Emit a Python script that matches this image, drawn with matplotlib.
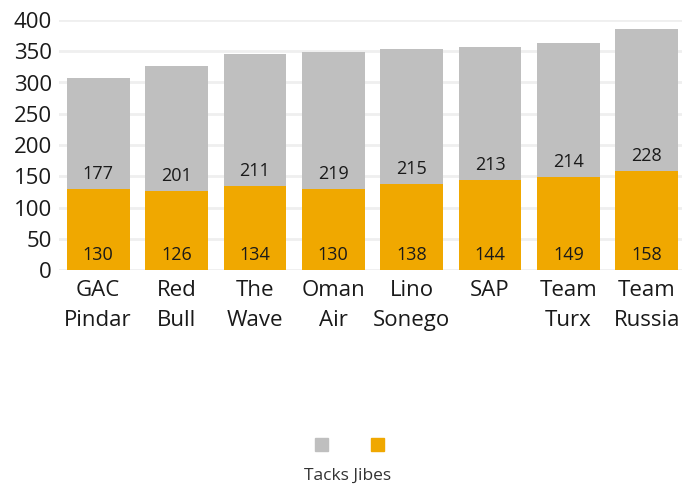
import matplotlib.pyplot as plt
from matplotlib.patches import Rectangle

plt.rcParams['font.family'] = ['Open Sans', 'DejaVu Sans']

teams = ['GAC\nPindar', 'Red\nBull', 'The\nWave', 'Oman\nAir', 'Lino\nSonego', 'SAP', 'Team\nTurx', 'Team\nRussia']
jibes = [130, 126, 134, 130, 138, 144, 149, 158]
tacks = [177, 201, 211, 219, 215, 213, 214, 228]

grey = '#bfbfbf'
orange = '#f0a800'

fig = plt.figure(figsize=(6.82, 4.86), dpi=100)
ax = fig.add_axes([59 / 682, 1 - 270 / 486, 623 / 682, 250 / 486])

x = range(len(teams))
ax.bar(x, jibes, width=0.8, color=orange, zorder=2)
ax.bar(x, tacks, width=0.8, bottom=jibes, color=grey, zorder=2)

for i in x:
    ax.text(i, 24, str(jibes[i]), ha='center', va='center', fontsize=13, color='#1a1a1a', zorder=3)
    ax.text(i, jibes[i] + 24, str(tacks[i]), ha='center', va='center', fontsize=13, color='#1a1a1a', zorder=3)

ax.set_ylim(0, 400)
ax.set_xlim(-0.5, 7.45)
ax.set_yticks(range(0, 401, 50))
ax.yaxis.grid(True, color='#efefef', linewidth=2, zorder=0)
ax.set_axisbelow(True)
for s in ax.spines.values():
    s.set_visible(False)
ax.tick_params(axis='both', length=0, labelsize=16, colors='#1a1a1a')
ax.tick_params(axis='y', pad=5)
ax.tick_params(axis='x', pad=7)
ax.set_xticks(list(x))
ax.set_xticklabels(teams, linespacing=1.55)
for t in ax.get_yticklabels():
    t.set_clip_on(False)

# legend
fig.add_artist(Rectangle((315 / 682, 1 - 451 / 486), 13 / 682, 13 / 486, transform=fig.transFigure, color=grey))
fig.add_artist(Rectangle((371 / 682, 1 - 451 / 486), 13 / 682, 13 / 486, transform=fig.transFigure, color=orange))
fig.text(348 / 682, 1 - 476 / 486, 'Tacks Jibes', ha='center', va='center', fontsize=12.5, color='#333333')

fig.savefig('out.png', dpi=100)
